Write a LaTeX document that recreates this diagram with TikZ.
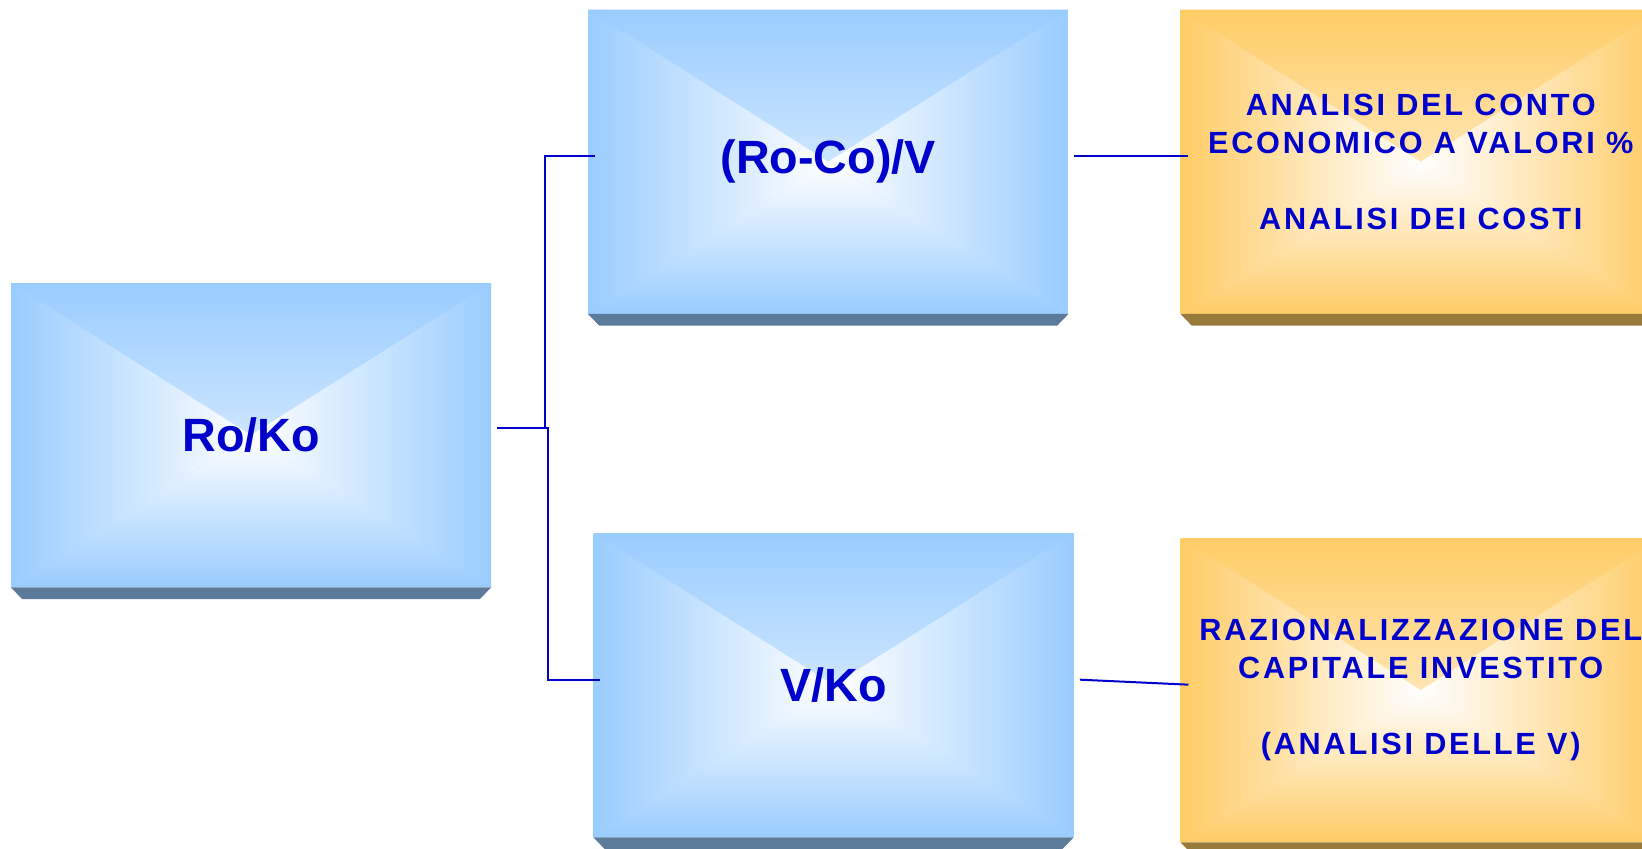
\documentclass[tikz,border=0pt]{standalone}
\usepackage{fontspec}
\setmainfont{Liberation Sans}
\newfontfamily\spacedfont[LetterSpace=9]{Liberation Sans}
\usetikzlibrary{positioning}

\definecolor{boxblue}{HTML}{99CCFF}
\definecolor{shadeblue}{HTML}{5C7A99}
\definecolor{boxorange}{HTML}{FFCC66}
\definecolor{shadeorange}{HTML}{997A3D}
\definecolor{textblue}{HTML}{0000CC}

% drop shadow under the lower edge of a box
\newcommand{\dropshade}[2]{%
  \fill[#2] (#1.south west) -- ([xshift=8.5pt, yshift=-8.8pt]#1.south west)
    -- ([xshift=-8.5pt, yshift=-8.8pt]#1.south east) -- (#1.south east) -- cycle;}

\tikzset{
  glow/.style={fill=#1, path picture={
    \shade[top color=#1, bottom color=white] (path picture bounding box.north west)
      -- (path picture bounding box.north east) -- (path picture bounding box.center) -- cycle;
    \shade[top color=white, bottom color=#1] (path picture bounding box.south west)
      -- (path picture bounding box.south east) -- (path picture bounding box.center) -- cycle;
    \shade[left color=#1, right color=white] (path picture bounding box.north west)
      -- (path picture bounding box.south west) -- (path picture bounding box.center) -- cycle;
    \shade[left color=white, right color=#1] (path picture bounding box.north east)
      -- (path picture bounding box.south east) -- (path picture bounding box.center) -- cycle;
  }}
}

\begin{document}
\begin{tikzpicture}[
  x=0.75pt, y=-0.75pt,
  bluebox/.style={rectangle, glow=boxblue, minimum width=360pt, minimum height=228pt, inner sep=0pt,
    text=textblue, font=\bfseries\fontsize{35}{42}\selectfont},
  orangebox/.style={rectangle, glow=boxorange, minimum width=360pt, minimum height=228pt, inner sep=0pt,
    align=center, text=textblue, font=\spacedfont\bfseries\fontsize{23}{28.5}\selectfont},
  link/.style={draw=textblue, line width=1.5pt}
]
\useasboundingbox (0,0) rectangle (1642,849);

% Left: the ratio being broken down.
\node[bluebox] (RoKo) at (251,435) {Ro/Ko};

% Middle column: its two factors.
\node[bluebox, right=72.5pt of RoKo, yshift=205pt] (RoCoV) {(Ro-Co)/V};
\node[bluebox, right=76.5pt of RoKo, yshift=-187.5pt] (VKo) {V/Ko};

% Right column: analyses for each factor.
\node[orangebox, right=84pt of RoCoV] (ContoEc)
  {ANALISI DEL CONTO\\ECONOMICO A VALORI \%\\[28.5pt]ANALISI DEI COSTI};
\node[orangebox, right=80pt of VKo, yshift=-3.75pt] (Capitale)
  {RAZIONALIZZAZIONE DEL\\CAPITALE INVESTITO\\[28.5pt](ANALISI DELLE V)};

% Shadows.
\dropshade{RoKo}{shadeblue}
\dropshade{RoCoV}{shadeblue}
\dropshade{VKo}{shadeblue}
\dropshade{ContoEc}{shadeorange}
\dropshade{Capitale}{shadeorange}

% Connectors.
\draw[link] ([xshift=4.5pt, yshift=5pt]RoKo.east) -- ([xshift=40.5pt, yshift=5pt]RoKo.east)
  |- ([xshift=5pt, yshift=4pt]RoCoV.west);
\draw[link] ([xshift=4.5pt, yshift=5pt]RoKo.east) -- ([xshift=42.75pt, yshift=5pt]RoKo.east)
  |- ([xshift=5pt, yshift=4pt]VKo.west);
\draw[link] ([xshift=4.5pt, yshift=4pt]RoCoV.east) -- ([xshift=6pt, yshift=4pt]ContoEc.west);
\draw[link] ([xshift=4.5pt, yshift=4pt]VKo.east) -- ([xshift=6pt, yshift=4pt]Capitale.west);

\end{tikzpicture}
\end{document}
